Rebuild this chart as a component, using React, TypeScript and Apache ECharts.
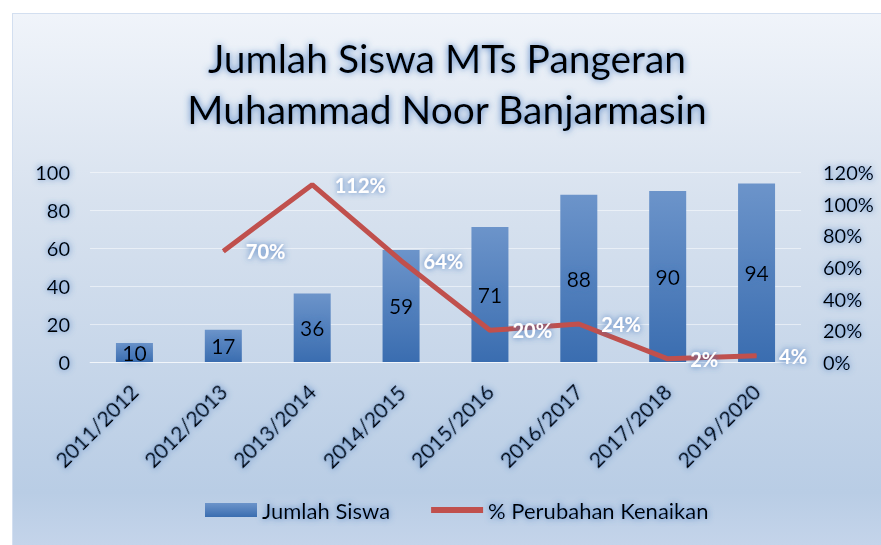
import React, { useEffect, useRef } from "react";
import * as echarts from "echarts";

const categories = ["2011/2012", "2012/2013", "2013/2014", "2014/2015", "2015/2016", "2016/2017", "2017/2018", "2019/2020"];
const jumlahSiswa = [10, 17, 36, 59, 71, 88, 90, 94];
const perubahan: (number | null)[] = [null, 70, 112, 64, 20, 24, 2, 4];
const leftTicks = { min: 0, max: 100, interval: 20 };
const rightTicks = { min: 0, max: 120, interval: 20 };

const FONT = "Lato, 'Liberation Sans', sans-serif";
const GLOW = "#3f74bb";

export default function App() {
  const ref = useRef<HTMLDivElement>(null);
  useEffect(() => {
    if (!ref.current) return;
    const chart = echarts.init(ref.current, null, { renderer: "svg" });
    const darkText = {
      color: "#000",
      fontFamily: FONT,
      textShadowColor: GLOW,
      textShadowBlur: 6,
    };
    chart.setOption({
      animation: false,
      backgroundColor: {
        type: "linear", x: 0, y: 0, x2: 0, y2: 1,
        colorStops: [
          { offset: 0, color: "#f0f4fa" },
          { offset: 0.35, color: "#d8e2ef" },
          { offset: 0.9, color: "#b9cde5" },
          { offset: 1, color: "#c4d4ea" },
        ],
      },
      title: {
        text: "Jumlah Siswa MTs Pangeran\nMuhammad Noor Banjarmasin",
        left: "center",
        top: 13,
        textStyle: { ...darkText, fontSize: 39, fontWeight: "normal", lineHeight: 51, textShadowBlur: 7 },
      },
      grid: { left: 77, right: 80, top: 158, bottom: 183 },
      legend: {
        bottom: 19,
        left: 187,
        itemWidth: 52,
        itemHeight: 14,
        itemGap: 38,
        textStyle: { ...darkText, fontSize: 22 },
        data: [
          { name: "Jumlah Siswa", icon: "rect" },
          { name: "% Perubahan Kenaikan", itemStyle: { opacity: 0 }, lineStyle: { width: 6, color: "#c0504d" } },
        ],
      },
      xAxis: {
        type: "category",
        data: categories,
        axisTick: { show: false },
        axisLine: { lineStyle: { color: "rgba(255,255,255,0.55)", width: 1 } },
        axisLabel: { ...darkText, fontSize: 21, rotate: 45, margin: 26 },
      },
      yAxis: [
        {
          type: "value",
          ...leftTicks,
          axisLine: { show: false },
          axisTick: { show: false },
          axisLabel: { ...darkText, fontSize: 20, margin: 20 },
          splitLine: { lineStyle: { color: "rgba(255,255,255,0.5)", width: 1 } },
        },
        {
          type: "value",
          ...rightTicks,
          axisLine: { show: false },
          axisTick: { show: false },
          axisLabel: { ...darkText, fontSize: 20, margin: 22, formatter: "{value}%" },
          splitLine: { show: false },
        },
      ],
      series: [
        {
          name: "Jumlah Siswa",
          type: "bar",
          data: jumlahSiswa,
          barWidth: 37,
          yAxisIndex: 0,
          itemStyle: {
            color: {
              type: "linear", x: 0, y: 0, x2: 0, y2: 1,
              colorStops: [
                { offset: 0, color: "#6c94ca" },
                { offset: 1, color: "#3a6db0" },
              ],
            },
          },
          label: { show: true, position: "inside", ...darkText, fontSize: 21 },
          z: 2,
        },
        {
          name: "% Perubahan Kenaikan",
          type: "line",
          data: perubahan,
          yAxisIndex: 1,
          symbol: "circle",
          symbolSize: 1,
          showSymbol: true,
          connectNulls: false,
          lineStyle: { color: "#c0504d", width: 5 },
          itemStyle: { color: "#c0504d" },
          label: {
            show: true,
            position: "right",
            distance: 22,
            formatter: "{c}%",
            color: "#fff",
            fontFamily: FONT,
            fontWeight: "bold",
            fontSize: 20,
            textShadowColor: GLOW,
            textShadowBlur: 6,
          },
          z: 3,
        },
      ],
    });
    return () => chart.dispose();
  }, []);
  return (
    <div
      ref={ref}
      style={{
        position: "absolute",
        left: 12,
        top: 13,
        width: 869,
        height: 532,
        boxSizing: "border-box",
        borderLeft: "1px solid #d3dff0",
        borderTop: "1px solid #d3dff0",
      }}
    />
  );
}
